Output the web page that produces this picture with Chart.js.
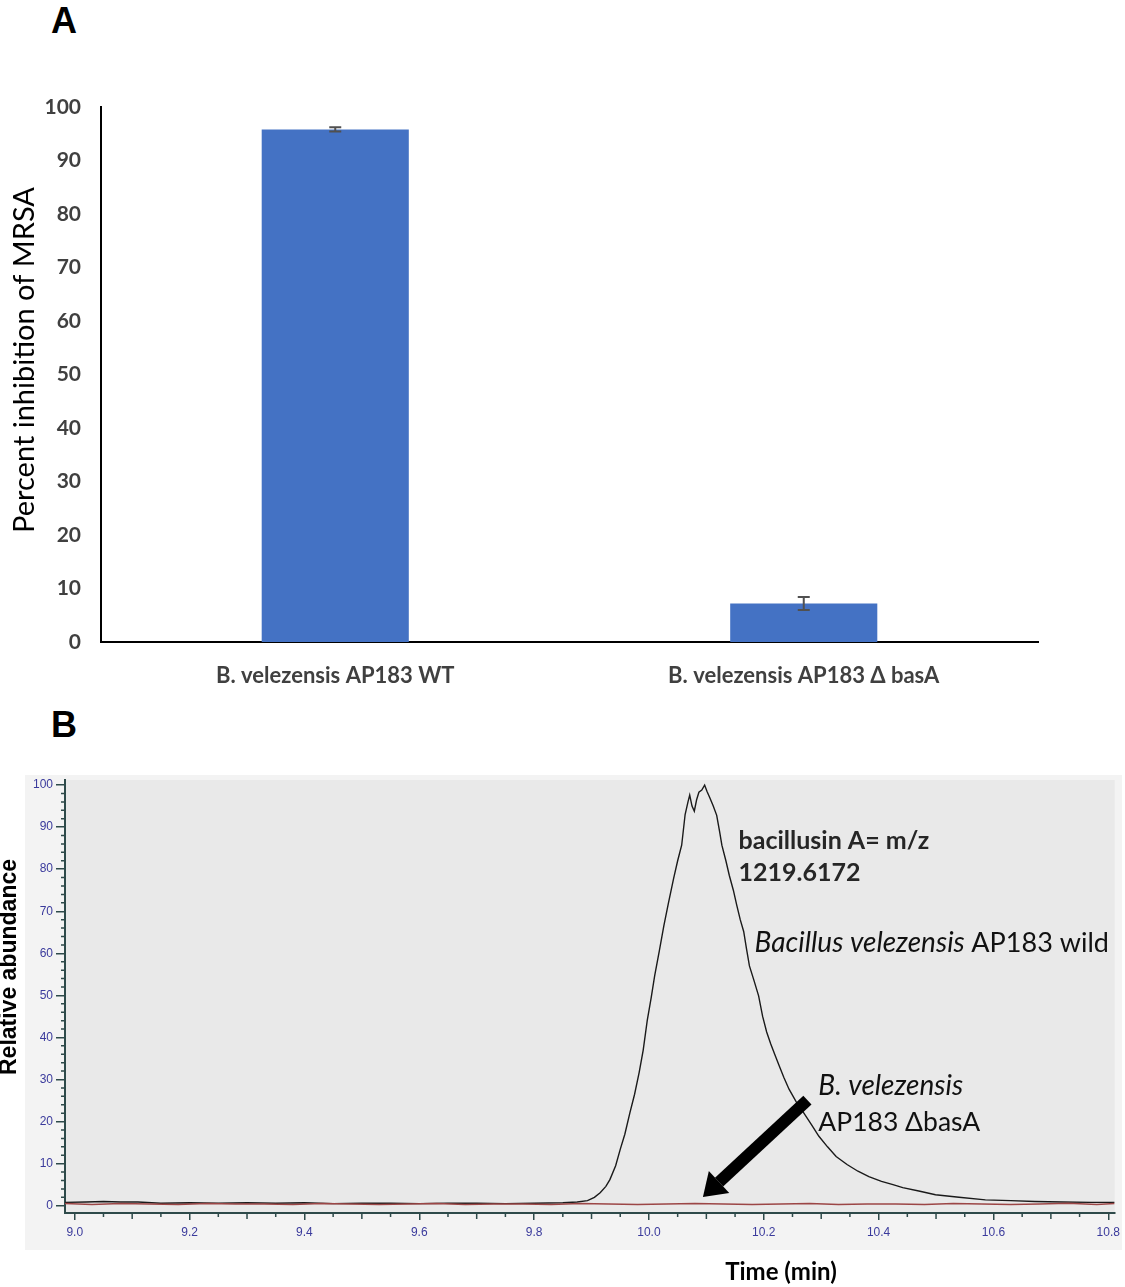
<!DOCTYPE html>
<html>
<head>
<meta charset="utf-8">
<script src="https://cdn.jsdelivr.net/npm/chart.js@4.4.0/dist/chart.umd.min.js"></script>
<style>
    body { margin: 0; background: #fff; width: 1125px; height: 1287px; position: relative; overflow: hidden; }
    .panel-letter { position: absolute; font: bold 36px "Liberation Sans", Arial, sans-serif; color: #000; line-height: 40px; }
    #chartA { position: absolute; left: 0; top: 0; }
    #chartB { position: absolute; left: 0; top: 760px; }
</style>
</head>
<body>
<div class="panel-letter" style="left:51px; top:1px;">A</div>
<div class="panel-letter" style="left:51px; top:705px;">B</div>
<canvas id="chartA" width="1125" height="700"></canvas>
<canvas id="chartB" width="1125" height="527"></canvas>
<script>
// --- panel A: inhibition of MRSA ---
const strains = ['B. velezensis AP183 WT', 'B. velezensis AP183 \u0394 basA'];
const inhibition = [95.8, 7.2];
const inhibitionErr = [0.4, 1.2];

// --- panel B: extracted ion chromatogram ---
const wildTime = [
    8.983, 9.02, 9.05, 9.08, 9.11, 9.15, 9.20, 9.25, 9.30, 9.35,
    9.40, 9.45, 9.50, 9.55, 9.60, 9.65, 9.70, 9.75, 9.80, 9.85,
    9.875, 9.893, 9.905, 9.915, 9.925, 9.932, 9.942, 9.950, 9.958, 9.967,
    9.975, 9.983, 9.990, 9.997, 10.004, 10.010, 10.018, 10.026, 10.034, 10.043,
    10.050, 10.057, 10.063, 10.068, 10.071, 10.075, 10.079, 10.083, 10.087, 10.092,
    10.097, 10.101, 10.106, 10.112, 10.118, 10.123, 10.127, 10.134, 10.140, 10.147,
    10.153, 10.159, 10.165, 10.170, 10.175, 10.183, 10.191, 10.198, 10.205, 10.212,
    10.219, 10.227, 10.235, 10.244, 10.256, 10.269, 10.283, 10.296, 10.311, 10.326,
    10.345, 10.364, 10.383, 10.405, 10.425, 10.442, 10.470, 10.499, 10.540, 10.586,
    10.630, 10.672, 10.720, 10.770, 10.811
];
const wildAbundance = [
    0.8, 0.9, 1.0, 0.9, 0.9, 0.6, 0.7, 0.6, 0.7, 0.6,
    0.7, 0.5, 0.6, 0.6, 0.5, 0.6, 0.6, 0.5, 0.6, 0.7,
    0.9, 1.2, 2.0, 3.1, 4.6, 6.2, 9.5, 13.4, 17.0, 22.2,
    26.5, 31.7, 37.0, 44.0, 49.5, 54.7, 60.5, 66.6, 72.0, 77.8,
    82.0, 85.7, 93.0, 96.0, 97.6, 95.0, 93.8, 96.5, 98.3, 98.8,
    100, 98.5, 97.0, 95.0, 92.8, 89.0, 85.7, 82.0, 78.5, 75.0,
    71.4, 68.0, 65.2, 61.0, 57.0, 53.5, 49.9, 45.0, 41.3, 38.5,
    36.0, 33.2, 30.5, 27.7, 24.8, 22.2, 19.3, 16.5, 14.0, 11.7,
    9.8, 8.2, 6.9, 5.8, 5.0, 4.3, 3.5, 2.6, 2.0, 1.4,
    1.2, 1.0, 0.9, 0.8, 0.8
];
const mutantTime = [
    8.983, 9.03, 9.08, 9.13, 9.18, 9.23, 9.28, 9.33, 9.38, 9.43,
    9.48, 9.53, 9.58, 9.63, 9.68, 9.73, 9.78, 9.83, 9.88, 9.93,
    9.98, 10.03, 10.08, 10.13, 10.18, 10.23, 10.28, 10.33, 10.38, 10.43,
    10.48, 10.53, 10.58, 10.63, 10.68, 10.73, 10.78, 10.811
];
const mutantAbundance = [
    0.5, 0.3, 0.5, 0.4, 0.3, 0.5, 0.4, 0.4, 0.3, 0.5,
    0.4, 0.3, 0.4, 0.5, 0.3, 0.4, 0.4, 0.3, 0.5, 0.4,
    0.3, 0.4, 0.5, 0.4, 0.3, 0.4, 0.5, 0.3, 0.4, 0.4,
    0.3, 0.5, 0.4, 0.3, 0.4, 0.6, 0.3, 0.5
];
const timeTicks = [9.0, 9.2, 9.4, 9.6, 9.8, 10.0, 10.2, 10.4, 10.6, 10.8];
const abundanceTicks = [0, 10, 20, 30, 40, 50, 60, 70, 80, 90, 100];

const greyText = '#404040';
const axisGreen = '#2e4a4a';
const tickBlue = '#3a3a9c';

// error bars on top of the bars
const errorBars = {
    id: 'errorBars',
    afterDatasetsDraw(chart) {
        const { ctx, scales: { y } } = chart;
        const bars = chart.getDatasetMeta(0).data;
        ctx.save();
        ctx.strokeStyle = '#505050';
        ctx.lineWidth = 2;
        bars.forEach((bar, i) => {
            const hi = y.getPixelForValue(inhibition[i] + inhibitionErr[i]);
            const lo = y.getPixelForValue(inhibition[i] - inhibitionErr[i]);
            ctx.beginPath();
            ctx.moveTo(bar.x, hi); ctx.lineTo(bar.x, lo);
            ctx.moveTo(bar.x - 6, hi); ctx.lineTo(bar.x + 6, hi);
            ctx.moveTo(bar.x - 6, lo); ctx.lineTo(bar.x + 6, lo);
            ctx.stroke();
        });
        ctx.restore();
    }
};

const inhibitionTitle = {
    id: 'inhibitionTitle',
    afterDraw(chart) {
        const ctx = chart.ctx;
        ctx.save();
        ctx.translate(25, 360);
        ctx.rotate(-Math.PI / 2);
        ctx.font = '29px Lato';
        ctx.fillStyle = '#000';
        ctx.textAlign = 'center';
        ctx.textBaseline = 'middle';
        ctx.fillText('Percent inhibition of MRSA', 0, 0);
        ctx.restore();
    }
};

new Chart(document.getElementById('chartA'), {
    type: 'bar',
    data: {
        labels: strains,
        datasets: [
            {
                data: inhibition,
                backgroundColor: '#4472C4',
                barPercentage: 0.314,
                categoryPercentage: 1,
            },
        ],
    },
    options: {
        responsive: false,
        animation: false,
        layout: { padding: { top: 107, right: 87, left: 0, bottom: 0 } },
        plugins: {
            legend: { display: false },
            tooltip: { enabled: false },
        },
        scales: {
            x: {
                grid: { display: false, drawTicks: false },
                border: { color: '#000', width: 2 },
                ticks: {
                    padding: 21,
                    color: greyText,
                    font: { family: 'Lato', size: 22, weight: 'bold' },
                },
                afterFit: (scale) => { scale.height = 58; },
            },
            y: {
                min: 0,
                max: 100,
                grid: { display: false, drawTicks: false },
                border: { color: '#000', width: 2 },
                ticks: {
                    stepSize: 10,
                    padding: 20,
                    color: greyText,
                    font: { family: 'Lato', size: 21, weight: 'bold' },
                },
                afterFit: (scale) => { scale.width = 101; },
            },
        },
    },
    plugins: [errorBars, inhibitionTitle],
});

// grey instrument frame behind the chromatogram
const chromatogramFrame = {
    id: 'chromatogramFrame',
    beforeDraw(chart) {
        const { ctx, chartArea: a } = chart;
        ctx.save();
        ctx.fillStyle = '#f3f3f3';
        ctx.fillRect(25, 15, 1097, 475);
        ctx.fillStyle = '#e9e9e9';
        ctx.fillRect(a.left, a.top, a.right - a.left, a.bottom - a.top);
        ctx.restore();
    }
};

// short minor ticks between the labelled ones
const minorTicks = {
    id: 'minorTicks',
    afterDraw(chart) {
        const { ctx, scales: { x, y }, chartArea: a } = chart;
        ctx.save();
        ctx.strokeStyle = axisGreen;
        ctx.lineWidth = 1.5;
        ctx.beginPath();
        for (let v = 2; v < 100; v += 2) {
            if (v % 10 === 0) continue;
            const py = y.getPixelForValue(v);
            ctx.moveTo(a.left - 4, py); ctx.lineTo(a.left, py);
        }
        for (let k = 1; k < 37; k++) {
            if (k % 4 === 0) continue;
            const px = x.getPixelForValue(9.0 + k * 0.05);
            const len = k % 2 === 0 ? 6 : 4;
            ctx.moveTo(px, a.bottom); ctx.lineTo(px, a.bottom + len);
        }
        ctx.stroke();
        ctx.restore();
    }
};

// text labels and the arrow pointing at the mutant trace
const chromatogramNotes = {
    id: 'chromatogramNotes',
    afterDraw(chart) {
        const { ctx, scales: { x, y } } = chart;
        ctx.save();
        ctx.textBaseline = 'middle';
        ctx.textAlign = 'left';

        ctx.fillStyle = '#262626';
        ctx.font = 'bold 25px Lato';
        ctx.fillText('bacillusin A= m/z', x.getPixelForValue(10.156), y.getPixelForValue(86.7));
        ctx.fillText('1219.6172', x.getPixelForValue(10.156), y.getPixelForValue(79.1));

        ctx.fillStyle = '#111';
        let px = x.getPixelForValue(10.184);
        const py = y.getPixelForValue(62.5);
        ctx.font = 'italic 28px Lato';
        ctx.fillText('Bacillus velezensis', px, py);
        px += ctx.measureText('Bacillus velezensis ').width;
        ctx.font = '27px Lato';
        ctx.fillText('AP183 wild', px, py);

        ctx.font = 'italic 28px Lato';
        ctx.fillText('B. velezensis', x.getPixelForValue(10.295), y.getPixelForValue(28.5));
        ctx.font = '26.5px Lato';
        ctx.fillText('AP183 \u0394basA', x.getPixelForValue(10.295), y.getPixelForValue(19.9));

        // arrow
        const x0 = x.getPixelForValue(10.276), y0 = y.getPixelForValue(25.1);
        const x1 = x.getPixelForValue(10.094), y1 = y.getPixelForValue(2.07);
        const ang = Math.atan2(y1 - y0, x1 - x0);
        const head = 22;
        const bx = x1 - head * Math.cos(ang), by = y1 - head * Math.sin(ang);
        ctx.strokeStyle = '#000';
        ctx.fillStyle = '#000';
        ctx.lineWidth = 12;
        ctx.beginPath();
        ctx.moveTo(x0, y0); ctx.lineTo(bx, by);
        ctx.stroke();
        ctx.beginPath();
        ctx.moveTo(x1, y1);
        ctx.lineTo(bx + 15 * Math.sin(ang), by - 15 * Math.cos(ang));
        ctx.lineTo(bx - 15 * Math.sin(ang), by + 15 * Math.cos(ang));
        ctx.closePath();
        ctx.fill();

        // axis titles
        ctx.fillStyle = '#000';
        ctx.textAlign = 'center';
        ctx.font = 'bold 24px Lato';
        ctx.fillText('Time (min)', 781, 512);
        ctx.translate(10, 207);
        ctx.rotate(-Math.PI / 2);
        ctx.font = 'bold 23px "Liberation Sans"';
        ctx.fillText('Relative abundance', 0, 0);
        ctx.restore();
    }
};

const toPoints = (xs, ys) => xs.map((t, i) => ({ x: t, y: ys[i] }));

new Chart(document.getElementById('chartB'), {
    type: 'line',
    data: {
        datasets: [
            {
                label: 'AP183 \u0394basA',
                data: toPoints(mutantTime, mutantAbundance),
                borderColor: '#9c4646',
                borderWidth: 1.5,
                pointRadius: 0,
                tension: 0,
            },
            {
                label: 'AP183 wild',
                data: toPoints(wildTime, wildAbundance),
                borderColor: '#1a1a1a',
                borderWidth: 1.4,
                pointRadius: 0,
                tension: 0,
            },
        ],
    },
    options: {
        responsive: false,
        animation: false,
        layout: { padding: { top: 20, right: 5, left: 0, bottom: 0 } },
        plugins: {
            legend: { display: false },
            tooltip: { enabled: false },
        },
        scales: {
            x: {
                type: 'linear',
                min: 8.983,
                max: 10.811,
                afterBuildTicks: (scale) => { scale.ticks = timeTicks.map((v) => ({ value: v })); },
                grid: { drawOnChartArea: false, tickLength: 7, color: axisGreen, lineWidth: 1.5 },
                border: { color: axisGreen, width: 2 },
                ticks: {
                    padding: 5,
                    maxRotation: 0,
                    color: tickBlue,
                    font: { family: 'Liberation Sans', size: 12 },
                    callback: (v) => v.toFixed(1),
                },
                afterFit: (scale) => { scale.height = 74; },
            },
            y: {
                min: -1.73,
                max: 101.2,
                afterBuildTicks: (scale) => { scale.ticks = abundanceTicks.map((v) => ({ value: v })); },
                grid: { drawOnChartArea: false, tickLength: 9, color: axisGreen, lineWidth: 1.5 },
                border: { color: axisGreen, width: 2 },
                ticks: {
                    padding: 3,
                    color: tickBlue,
                    font: { family: 'Liberation Sans', size: 12 },
                },
                afterFit: (scale) => { scale.width = 65; },
            },
        },
    },
    plugins: [chromatogramFrame, minorTicks, chromatogramNotes],
});
</script>
</body>
</html>
